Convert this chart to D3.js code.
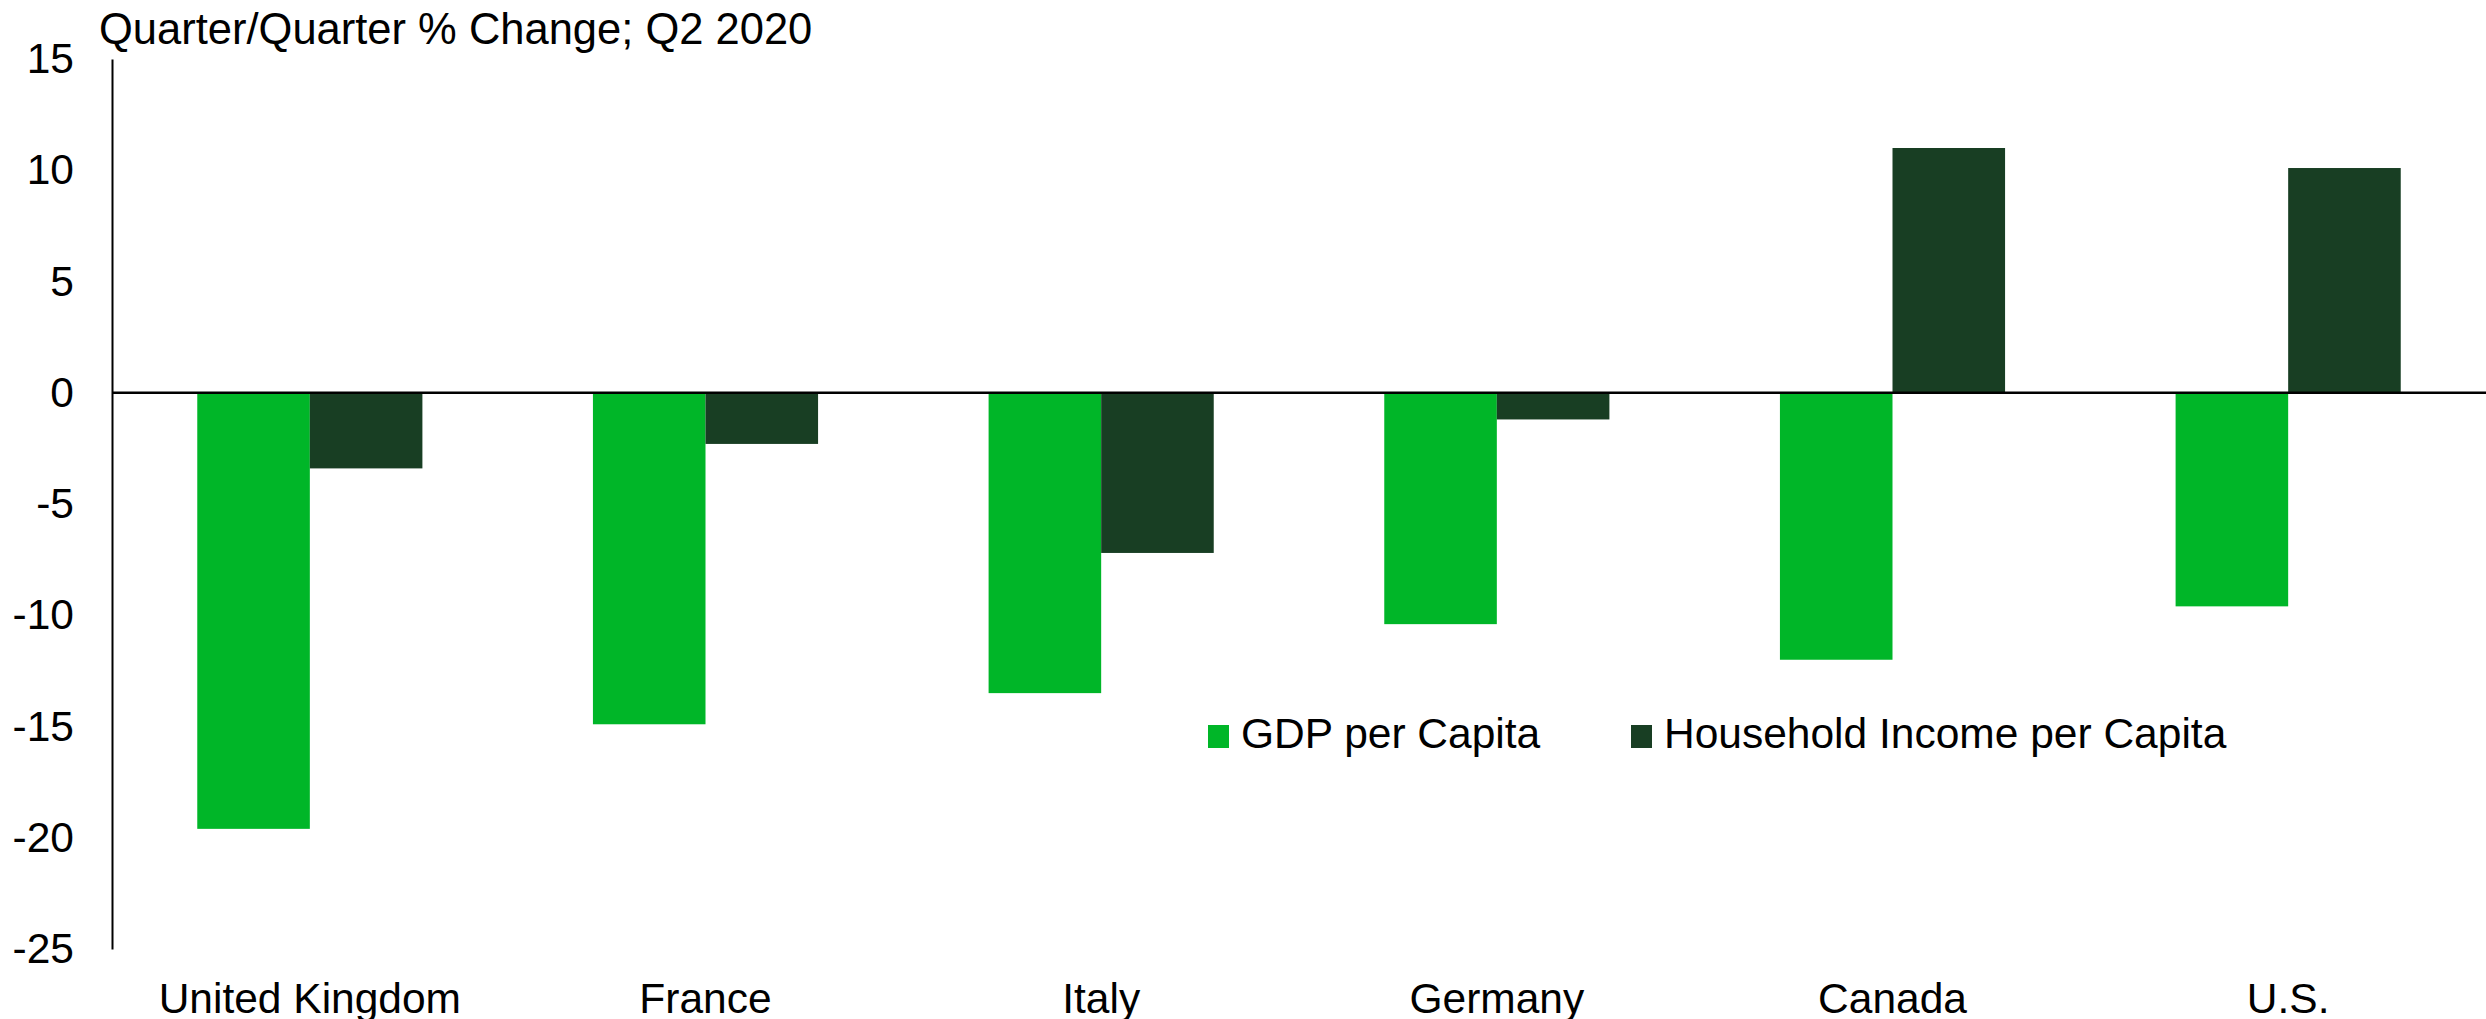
<!DOCTYPE html>
<html>
<head>
<meta charset="utf-8">
<script src="https://cdn.jsdelivr.net/npm/d3@7"></script>
<style>
  body { margin: 0; background: #fff; }
  svg { display: block; font-family: "Liberation Sans", Arial, sans-serif; }
</style>
</head>
<body>
<svg id="chart" width="2486" height="1019"></svg>
<script>
// chart data
var countries = ["United Kingdom", "France", "Italy", "Germany", "Canada", "U.S."];
var seriesNames = ["GDP per Capita", "Household Income per Capita"];
var gdpPerCapita = [-19.6, -14.9, -13.5, -10.4, -12.0, -9.6];
var householdIncome = [-3.4, -2.3, -7.2, -1.2, 11.0, 10.1];
var yTicks = [15, 10, 5, 0, -5, -10, -15, -20, -25];
var colors = ["#00b628", "#183e23"];

var svg = d3.select("#chart");
var left = 112, right = 2486;

var y = d3.scaleLinear().domain([-25, 15]).range([949, 59]);
var x0 = d3.scaleBand().domain(countries).range([left, right]).padding(0);
var bw = x0.bandwidth();
var x1 = d3.scaleBand().domain(seriesNames).range([bw * 0.2155, bw * 0.7845]).padding(0);

var rows = countries.map(function(c, i){
    return {country: c, values: [gdpPerCapita[i], householdIncome[i]]};
});

// bars
var groups = svg.selectAll("g.group").data(rows).enter().append("g")
    .attr("class", "group")
    .attr("transform", function(d){ return "translate(" + x0(d.country) + ",0)"; });

groups.selectAll("rect").data(function(d){
        return d.values.map(function(v, j){ return {name: seriesNames[j], value: v, idx: j}; });
    })
    .enter().append("rect")
    .attr("x", function(d){ return x1(d.name); })
    .attr("width", x1.bandwidth())
    .attr("y", function(d){ return y(Math.max(0, d.value)); })
    .attr("height", function(d){ return Math.abs(y(d.value) - y(0)); })
    .attr("fill", function(d){ return colors[d.idx]; });

// y axis, plain hyphen for negatives like the original
var yAxis = d3.axisLeft(y).tickValues(yTicks).tickSize(0).tickPadding(38)
    .tickFormat(function(d){ return String(d); });
var yg = svg.append("g").attr("transform", "translate(" + left + ",0)").call(yAxis);
yg.select(".domain").attr("stroke", "#000").attr("stroke-width", 2);
yg.selectAll("text").attr("font-size", 42.5).attr("fill", "#000")
    .attr("font-family", "'Liberation Sans', Arial, sans-serif");

// zero line
svg.append("line")
    .attr("x1", left).attr("x2", right)
    .attr("y1", y(0)).attr("y2", y(0))
    .attr("stroke", "#000").attr("stroke-width", 2.5);

// category labels
svg.selectAll("text.cat").data(countries).enter().append("text")
    .attr("class", "cat")
    .attr("x", function(d){ return x0(d) + bw / 2; })
    .attr("y", 1013)
    .attr("text-anchor", "middle")
    .attr("font-size", 42.5)
    .text(function(d){ return d; });

// title
svg.append("text")
    .attr("x", 99).attr("y", 44)
    .attr("font-size", 43.5)
    .text("Quarter/Quarter % Change; Q2 2020");

// legend
var legendX = [1208, 1631];
var leg = svg.selectAll("g.legend").data(seriesNames).enter().append("g")
    .attr("class", "legend")
    .attr("transform", function(d, i){ return "translate(" + legendX[i] + ",725)"; });
leg.append("rect").attr("width", 21).attr("height", 23)
    .attr("fill", function(d, i){ return colors[i]; });
leg.append("text").attr("x", 33).attr("y", 23)
    .attr("font-size", 42.5)
    .text(function(d){ return d; });
</script>
</body>
</html>
